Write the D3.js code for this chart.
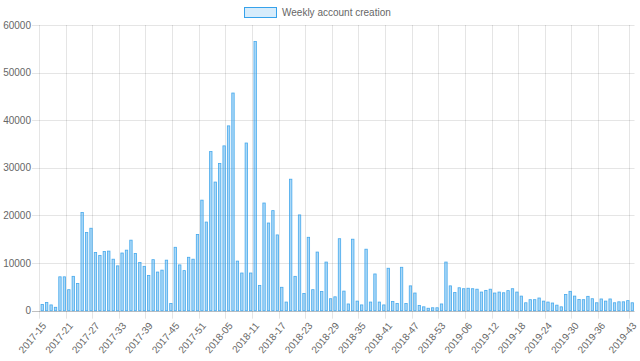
<!DOCTYPE html>
<html><head><meta charset="utf-8">
<script src="https://cdn.jsdelivr.net/npm/d3@7"></script>
<style>body{margin:0;background:#fff}svg{display:block}</style>
</head><body><svg id="c" width="640" height="361"></svg>
<script>
// ---- data ----
const yearRanges = [[2017, 15, 52], [2018, 1, 53], [2019, 1, 43]];
const weeks = [];
yearRanges.forEach(([yr, a, b]) => { for (let w = a; w <= b; w++) weeks.push(yr + "-" + String(w).padStart(2, "0")); });

const accounts = [
  1400, 1800, 1300, 800, 7200, 7200, 4500, 7300, 5800, 20700,
  16500, 17400, 12300, 11700, 12500, 12600, 10900, 9500, 12200, 12800,
  14900, 12100, 10200, 9400, 7500, 10800, 8200, 8600, 10700, 1600,
  13400, 9700, 8500, 11300, 10900, 16100, 23300, 18700, 33500, 27100,
  31000, 34700, 38900, 45800, 10500, 8000, 35300, 8000, 56600, 5400,
  22700, 18500, 21100, 16000, 5000, 1900, 27700, 7300, 20200, 3700,
  15500, 4500, 12400, 4100, 10300, 2600, 3000, 15200, 4200, 1500,
  15100, 2100, 1300, 13000, 1900, 7800, 1900, 1300, 9000, 2000,
  1600, 9200, 1600, 5300, 3800, 1200, 900, 600, 700, 700,
  1500, 10300, 5300, 3900, 4900, 4700, 4800, 4700, 4600, 4000,
  4350, 4600, 3800, 4000, 3850, 4300, 4700, 4000, 3150, 1750,
  2400, 2400, 2750, 2100, 1900, 1700, 1250, 900, 3500, 4150,
  3150, 2450, 2400, 3100, 2600, 1750, 2550, 2100, 2550, 1750,
  1950, 1950, 2200, 1750
];

const xTickLabels = ["2017-15","2017-21","2017-27","2017-33","2017-39","2017-45","2017-51",
  "2018-05","2018-11","2018-17","2018-23","2018-29","2018-35","2018-41","2018-47","2018-53",
  "2019-06","2019-12","2019-18","2019-24","2019-30","2019-36","2019-43"];
const yTicks = [0, 10000, 20000, 30000, 40000, 50000, 60000];
const seriesName = "Weekly account creation";

// ---- drawing ----
const L = 40, R = 634.5, T = 25, B = 310.7;
const font = "'Liberation Sans', Arial, Helvetica, sans-serif";
const svg = d3.select("#c");

const x = d3.scaleBand().domain(weeks).range([L, R]).paddingInner(0.28).paddingOuter(0.14);
const y = d3.scaleLinear().domain([0, 60000]).range([B, T]);
const step = x.step();
const leftEdge = d => x(d) - step * 0.14;
const center = d => x(d) + x.bandwidth() / 2;

// horizontal grid
svg.append("g").selectAll("line").data(yTicks).join("line")
  .attr("x1", L - 8).attr("x2", R)
  .attr("y1", d => Math.round(y(d)) + 0.5).attr("y2", d => Math.round(y(d)) + 0.5)
  .attr("stroke", d => d === 0 ? "rgba(0,0,0,0.25)" : "rgba(0,0,0,0.1)").attr("stroke-width", 1);

// vertical grid
svg.append("g").selectAll("line").data(xTickLabels).join("line")
  .attr("x1", d => Math.round(leftEdge(d)) - 0.5).attr("x2", d => Math.round(leftEdge(d)) - 0.5)
  .attr("y1", T).attr("y2", B + 8)
  .attr("stroke", "rgba(0,0,0,0.1)").attr("stroke-width", 1);

// y labels
svg.append("g").selectAll("text").data(yTicks).join("text")
  .attr("x", L - 9).attr("y", d => y(d)).attr("dy", "0.35em")
  .attr("text-anchor", "end").attr("font-family", font).attr("font-size", 10).attr("fill", "#666")
  .text(d => d);

// x labels
svg.append("g").selectAll("text").data(xTickLabels).join("text")
  .attr("transform", d => `translate(${center(d) + 2},${B + 13}) rotate(-50)`)
  .attr("dy", "0.35em")
  .attr("text-anchor", "end").attr("font-family", font).attr("font-size", 10).attr("fill", "#666")
  .text(d => d);

// bars
svg.append("g").selectAll("rect").data(weeks.map((w, i) => [w, accounts[i]])).join("rect")
  .attr("x", d => x(d[0]) + 0.4).attr("width", Math.max(0, x.bandwidth() - 0.8))
  .attr("y", d => y(d[1]) + 0.4).attr("height", d => Math.max(0, B - y(d[1]) - 0.4))
  .attr("fill", "rgba(54,162,235,0.42)").attr("stroke", "rgba(54,162,235,0.9)").attr("stroke-width", 0.8);

// legend
svg.append("rect").attr("x", 244.5).attr("y", 7.5).attr("width", 32).attr("height", 10)
  .attr("fill", "rgba(54,162,235,0.2)").attr("stroke", "rgb(54,162,235)").attr("stroke-width", 1);
svg.append("text").attr("x", 282).attr("y", 12.5).attr("dy", "0.35em")
  .attr("font-family", font).attr("font-size", 10).attr("fill", "#666").text(seriesName);
</script></body></html>
